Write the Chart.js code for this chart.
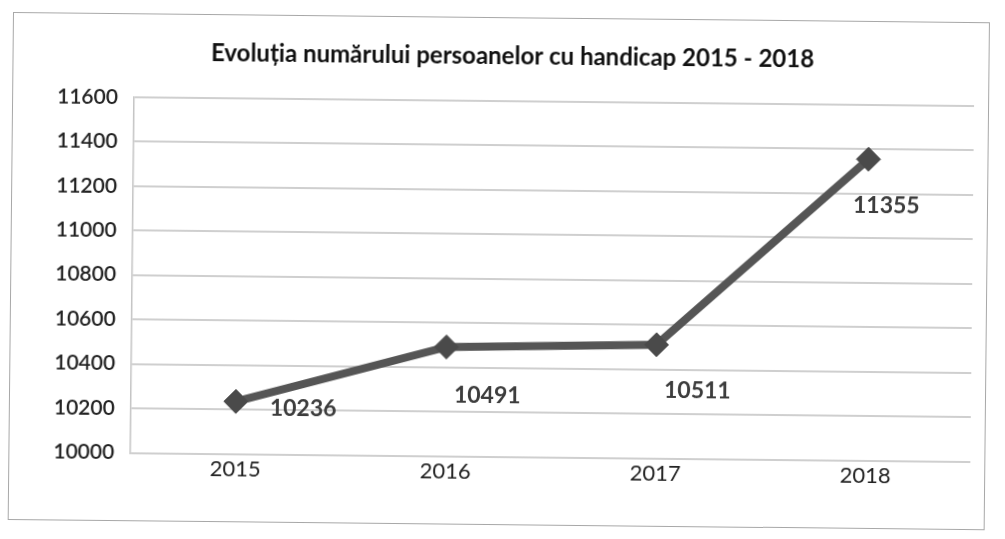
<!DOCTYPE html>
<html>
<head>
<meta charset="utf-8">
<script src="https://cdn.jsdelivr.net/npm/chart.js@4"></script>
<style>
  html, body { margin: 0; padding: 0; background: #fff; }
  body { width: 1005px; height: 539px; position: relative; overflow: hidden; }
  #frame {
    position: absolute; left: 13px; top: 12px; width: 977px; height: 508px;
    border: 1.5px solid #a8a8a8; box-sizing: border-box;
    transform: rotate(0.6deg); transform-origin: 0 0;
  }
  #frame canvas { display: block; }
</style>
</head>
<body>
<div id="frame"><canvas id="chart" width="974" height="505"></canvas></div>
<script>
// Chart values
const years = ['2015', '2016', '2017', '2018'];
const persons = [10236, 10491, 10511, 11355];
const yTicks = [10000, 10200, 10400, 10600, 10800, 11000, 11200, 11400, 11600];
const chartTitle = 'Evoluția numărului persoanelor cu handicap 2015 - 2018';

const FONT = 'Lato, "Open Sans", sans-serif';

// Draws the value next to each marker (first one to the right, others below)
const valueLabels = {
  id: 'valueLabels',
  afterDatasetsDraw(chart, args, opts) {
    const ctx = chart.ctx;
    const meta = chart.getDatasetMeta(0);
    ctx.save();
    ctx.font = 'bold 23px ' + FONT;
    ctx.fillStyle = '#3c3c3c';
    ctx.textAlign = 'left';
    ctx.textBaseline = 'middle';
    meta.data.forEach((pt, i) => {
      const off = opts.offsets[i];
      ctx.fillText(String(persons[i]), pt.x + off[0], pt.y + off[1]);
    });
    ctx.restore();
  }
};

new Chart(document.getElementById('chart'), {
  type: 'line',
  data: {
    labels: years,
    datasets: [{
      data: persons,
      borderColor: '#555555',
      borderWidth: 8,
      tension: 0,
      pointStyle: 'rectRot',
      pointRadius: 12,
      pointBackgroundColor: '#4a4a4a',
      pointBorderColor: '#4a4a4a',
      pointBorderWidth: 1
    }]
  },
  options: {
    responsive: false,
    animation: false,
    layout: { padding: { left: 28, right: 4, top: 6, bottom: 44 } },
    scales: {
      x: {
        offset: true,
        grid: { display: false },
        border: { display: false },
        ticks: { color: '#222', padding: -6, font: { size: 22, family: FONT } }
      },
      y: {
        min: 10000,
        max: 11600,
        afterBuildTicks: (axis) => { axis.ticks = yTicks.map(v => ({ value: v })); },
        grid: { color: '#cfcfcf', lineWidth: 2, drawTicks: false },
        border: { display: true, color: '#c4c4c4', width: 1.5 },
        ticks: {
          color: '#222', padding: 16,
          font: { size: 21, weight: '600', family: FONT },
          callback: (v) => String(v)
        }
      }
    },
    plugins: {
      legend: { display: false },
      tooltip: { enabled: false },
      title: {
        display: true,
        text: chartTitle,
        color: '#111',
        font: { size: 24, weight: 'bold', family: FONT },
        padding: { top: 18, bottom: 30 }
      },
      valueLabels: { offsets: [[34, 6], [8, 48], [8, 46], [-15, 46]] }
    }
  },
  plugins: [valueLabels]
});
</script>
</body>
</html>
